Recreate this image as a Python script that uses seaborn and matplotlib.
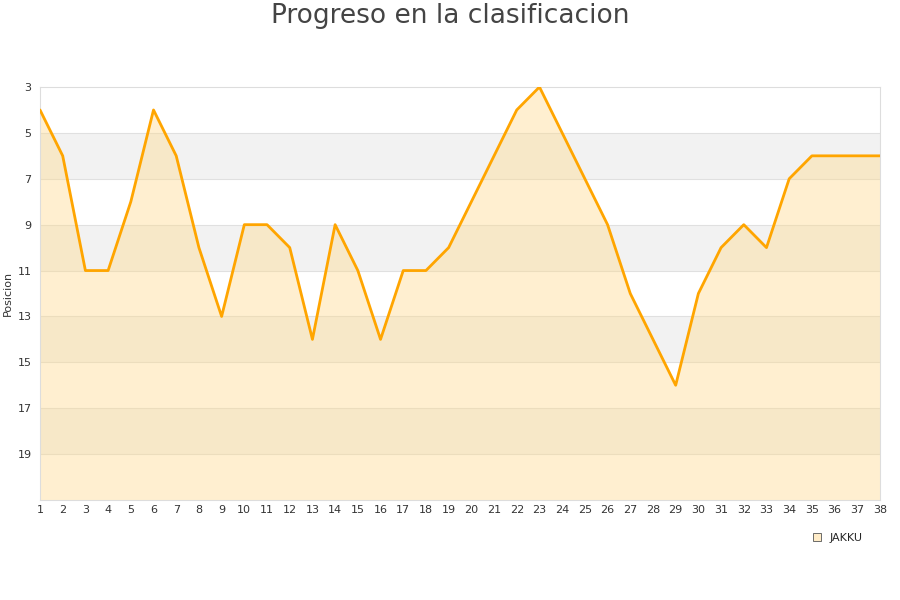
import numpy as np
import pandas as pd
import seaborn as sns
import matplotlib.pyplot as plt
from matplotlib.patches import Patch

# datos de la clasificacion
jornadas = list(range(1, 39))
posiciones = [4, 6, 11, 11, 8, 4, 6, 10, 13, 9, 9, 10, 14, 9, 11, 14, 11, 11, 10, 8,
              6, 4, 3, 5, 7, 9, 12, 14, 16, 12, 10, 9, 10, 7, 6, 6, 6, 6]
equipo = 'JAKKU'
ticks_y = [3, 5, 7, 9, 11, 13, 15, 17, 19]

df = pd.DataFrame({'Jornada': jornadas, 'Posicion': posiciones})

sns.set_style('white')
plt.rcParams['font.family'] = ['DejaVu Sans']

fig = plt.figure(figsize=(9, 6), dpi=100)
ax = fig.add_axes([40 / 900, 100 / 600, 840 / 900, 413 / 600])

# bandas alternas
for i, y0 in enumerate(range(3, 21, 2)):
    if i % 2 == 1:
        ax.axhspan(y0, y0 + 2, color='#f2f2f2', zorder=0, lw=0)
for y in range(5, 21, 2):
    ax.axhline(y, color='#e0e0e0', lw=0.8, zorder=1)

ax.fill_between(df['Jornada'], df['Posicion'], 21, color='#ffd98a', alpha=0.4, lw=0, zorder=2)
sns.lineplot(data=df, x='Jornada', y='Posicion', color='#ffa500', lw=2, ax=ax, zorder=3)

ax.set_xlim(1, 38)
ax.set_ylim(21, 3)
ax.set_xticks(jornadas)
ax.set_yticks(ticks_y)
ax.tick_params(axis='both', labelsize=8, colors='#333333', length=0)
ax.tick_params(axis='y', pad=6)
ax.set_xlabel('')
ax.set_ylabel('Posicion', fontsize=8, color='#333333', labelpad=3)
for s in ax.spines.values():
    s.set_color('#dddddd')
    s.set_linewidth(0.8)

fig.suptitle('Progreso en la clasificacion', fontsize=19, color='#444444', y=0.995)

handles = [Patch(facecolor='#ffecc8', edgecolor='#555555', lw=0.6, label=equipo)]
fig.legend(handles=handles, loc='center', bbox_to_anchor=(838 / 900, 1 - 538 / 600),
           frameon=False, fontsize=8, handlelength=0.7, handleheight=0.7, handletextpad=0.8)

fig.savefig('out.png', dpi=100)
